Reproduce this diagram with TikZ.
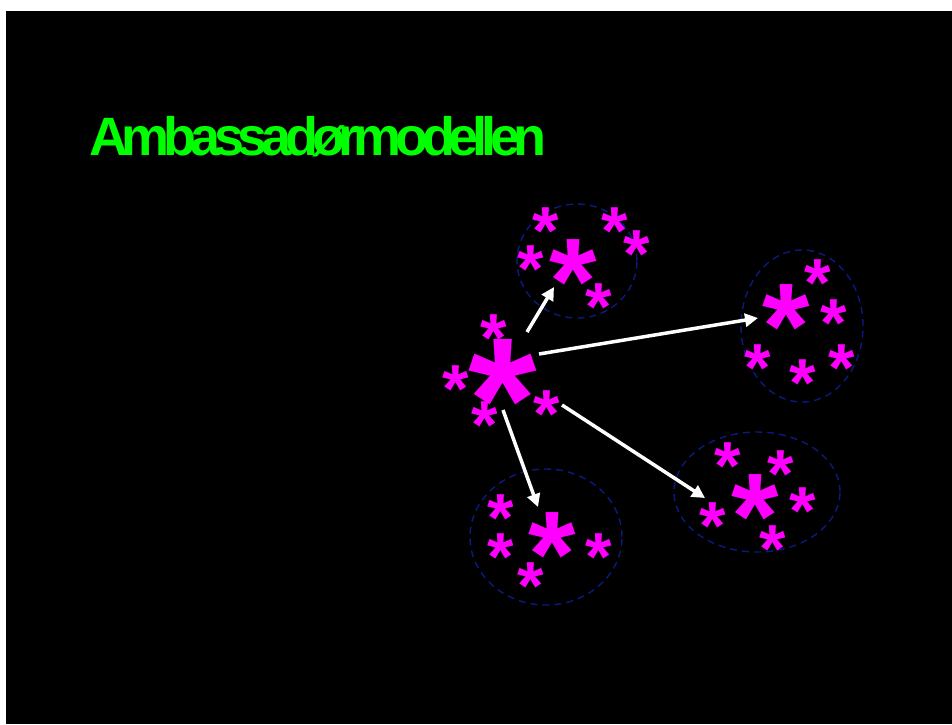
\documentclass[tikz,border=0pt]{standalone}
\usepackage{fontspec}
\setmainfont{Liberation Sans}
\usetikzlibrary{arrows.meta,shapes.geometric}
\definecolor{starpink}{HTML}{FF00FF}
\definecolor{titlegreen}{HTML}{00FF00}
\definecolor{ringblue}{HTML}{0A1A80}
\newfontfamily\titlefont[LetterSpace=-11.6]{Liberation Sans Bold}
\newcommand{\mkstar}[3]{\node[starnode] (#1) at (#2) {\fontsize{#3}{#3}\selectfont\makebox[0pt]{\raisebox{-0.5em}[0pt][0pt]{*}}};}
\begin{document}
\begin{tikzpicture}[x=1pt,y=-1pt,
  starnode/.style={inner sep=0pt,text=starpink,font=\bfseries},
  ring/.style={draw=ringblue,line width=1.4pt,dash pattern=on 7pt off 5pt,ellipse,inner sep=0pt},
  link/.style={draw=white,line width=3.5pt,-{Triangle[length=13pt,width=13pt]}}]
\useasboundingbox (0,0) rectangle (952,724);
\fill[white] (0,0) rectangle (952,724);
\fill[black] (6,11) rectangle (952,724);
\node[anchor=base west,inner sep=0pt,text=titlegreen,font=\titlefont\fontsize{54}{54}\selectfont] (title) at (89,155) {Ambassadørmodellen};
% rings
\node[ring,minimum width=120pt,minimum height=114pt] (r1) at (577,261) {};
\node[ring,minimum width=122pt,minimum height=152pt] (r2) at (802,326) {};
\node[ring,minimum width=152pt,minimum height=136pt] (r3) at (546,537) {};
\node[ring,minimum width=166pt,minimum height=120pt] (r4) at (757,492) {};
% central star
\mkstar{c}{503,372}{176pt}
\mkstar{c1}{494,327}{68pt}
\mkstar{c2}{456,378}{68pt}
\mkstar{c3}{547,403}{68pt}
\mkstar{c4}{485,414}{68pt}
% cluster 1
\mkstar{a}{573,262}{122pt}
\mkstar{a1}{546,220}{68pt}
\mkstar{a2}{615,220}{68pt}
\mkstar{a3}{637,243}{68pt}
\mkstar{a4}{531,258}{68pt}
\mkstar{a5}{599,296}{68pt}
% cluster 2
\mkstar{b}{786,307}{122pt}
\mkstar{b1}{818,272}{68pt}
\mkstar{b2}{834,312}{68pt}
\mkstar{b3}{758,357}{68pt}
\mkstar{b4}{803,372}{68pt}
\mkstar{b5}{842,357}{68pt}
% cluster 3
\mkstar{d}{552,535}{122pt}
\mkstar{d1}{501,507}{68pt}
\mkstar{d2}{501,546}{68pt}
\mkstar{d3}{599,546}{68pt}
\mkstar{d4}{531,575}{68pt}
% cluster 4
\mkstar{e}{755,497}{122pt}
\mkstar{e1}{728,455}{68pt}
\mkstar{e2}{781,463}{68pt}
\mkstar{e3}{803,500}{68pt}
\mkstar{e4}{713,515}{68pt}
\mkstar{e5}{773,538}{68pt}
% arrows
\coordinate (s1) at (527,332); \coordinate (t1) at (554,287);
\coordinate (s2) at (539,354); \coordinate (t2) at (758,318);
\coordinate (s3) at (562,405); \coordinate (t3) at (705,498);
\coordinate (s4) at (503,410); \coordinate (t4) at (538,507);
\draw[link] (s1) -- (t1);
\draw[link] (s2) -- (t2);
\draw[link] (s3) -- (t3);
\draw[link] (s4) -- (t4);
\end{tikzpicture}
\end{document}
